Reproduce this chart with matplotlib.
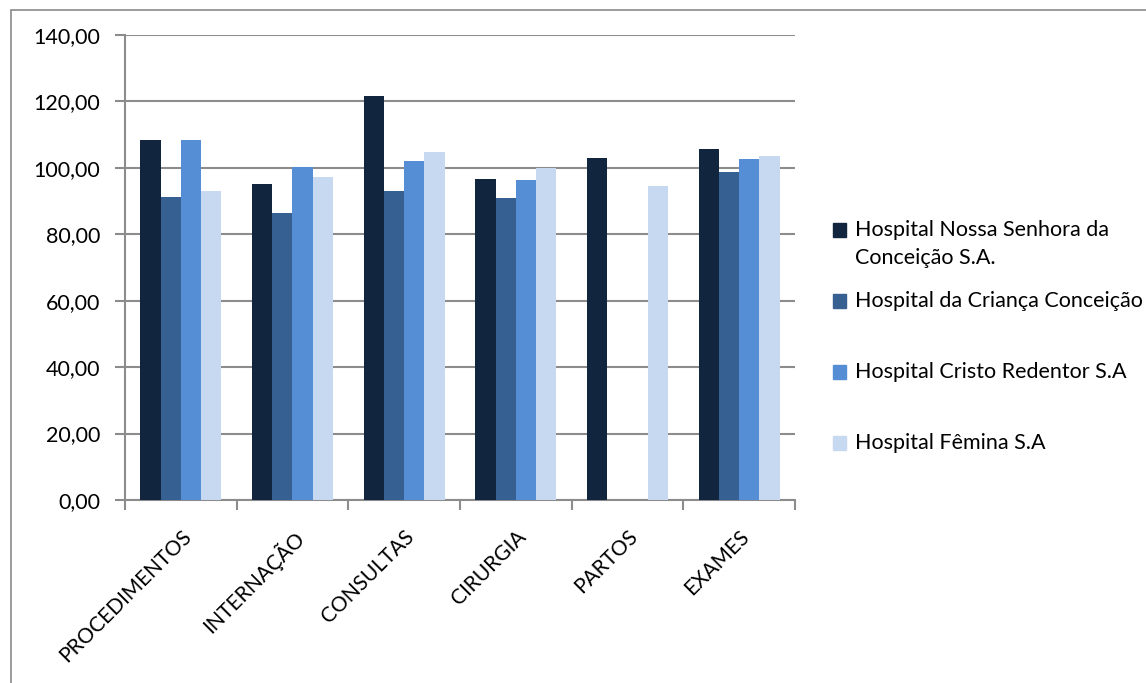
import numpy as np
import matplotlib.pyplot as plt
from matplotlib.patches import Rectangle
from matplotlib.ticker import FuncFormatter

plt.rcParams['font.family'] = ['Lato', 'DejaVu Sans']

# categories and one value list per hospital
categorias = ['PROCEDIMENTOS', 'INTERNAÇÃO', 'CONSULTAS', 'CIRURGIA', 'PARTOS', 'EXAMES']
hospitais = ['Hospital Nossa Senhora da\nConceição S.A.',
             'Hospital da Criança Conceição',
             'Hospital Cristo Redentor S.A',
             'Hospital Fêmina S.A']
hnsc = [108.4, 95.1, 121.7, 96.7, 103.1, 105.7]
crianca = [91.2, 86.5, 92.9, 90.8, np.nan, 98.9]
redentor = [108.4, 100.4, 102.0, 96.2, np.nan, 102.6]
femina = [93.0, 97.3, 104.8, 99.9, 94.5, 103.6]
series = [hnsc, crianca, redentor, femina]
cores = ['#11253F', '#366092', '#558ED5', '#C6D9F1']

W, H = 1146, 683
fs = 15.5
fig = plt.figure(figsize=(W / 100, H / 100), dpi=100)
ax = fig.add_axes([125 / W, 1 - 500 / H, 670 / W, 465 / H])

grid_cor = '#8C8C8C'
x = np.arange(len(categorias))
larg = 1 / 5.5
for i, (vals, cor) in enumerate(zip(series, cores)):
    ax.bar(x + (i - 1.5) * larg, vals, width=larg, color=cor, zorder=3)

ax.set_xlim(-0.5, len(categorias) - 0.5)
ax.set_ylim(0, 140)
ax.set_yticks(np.arange(0, 141, 20))
ax.yaxis.set_major_formatter(FuncFormatter(lambda v, p: f'{v:.2f}'.replace('.', ',')))
ax.grid(axis='y', color=grid_cor, linewidth=1.5, zorder=0)

# ticks between categories, labels on the centres
ax.set_xticks(np.arange(len(categorias) + 1) - 0.5)
ax.set_xticklabels([])
ax.set_xticks(x, minor=True)
ax.set_xticklabels(categorias, minor=True, rotation=45, ha='right', va='top',
                   rotation_mode='anchor', fontsize=fs - 0.5)
ax.tick_params(axis='x', which='minor', length=0, pad=19)
ax.tick_params(axis='x', which='major', length=7, width=1.5, color=grid_cor)
ax.tick_params(axis='y', length=7, width=1.5, color=grid_cor, pad=11, labelsize=fs)

for s in ['top', 'right']:
    ax.spines[s].set_visible(False)
for s in ['left', 'bottom']:
    ax.spines[s].set_color(grid_cor)
    ax.spines[s].set_linewidth(1.5)

# legend drawn at fixed rows to the right of the plot
linhas = [230, 301, 372, 443]
for nome, cor, yy in zip(hospitais, cores, linhas):
    fig.patches.append(Rectangle((833 / W, 1 - (yy + 7) / H), 13 / W, 14 / H,
                                 transform=fig.transFigure, color=cor))
    for k, parte in enumerate(nome.split('\n')):
        fig.text(855 / W, 1 - (yy + 28 * k) / H, parte, fontsize=fs, va='center')

# chart frame
fig.patches.append(Rectangle((11 / W, -0.05), 1.2, 1 - 10 / H + 0.05,
                             transform=fig.transFigure, fill=False,
                             edgecolor='#8A8A8A', linewidth=1.2))

fig.savefig('out.png', dpi=100)
